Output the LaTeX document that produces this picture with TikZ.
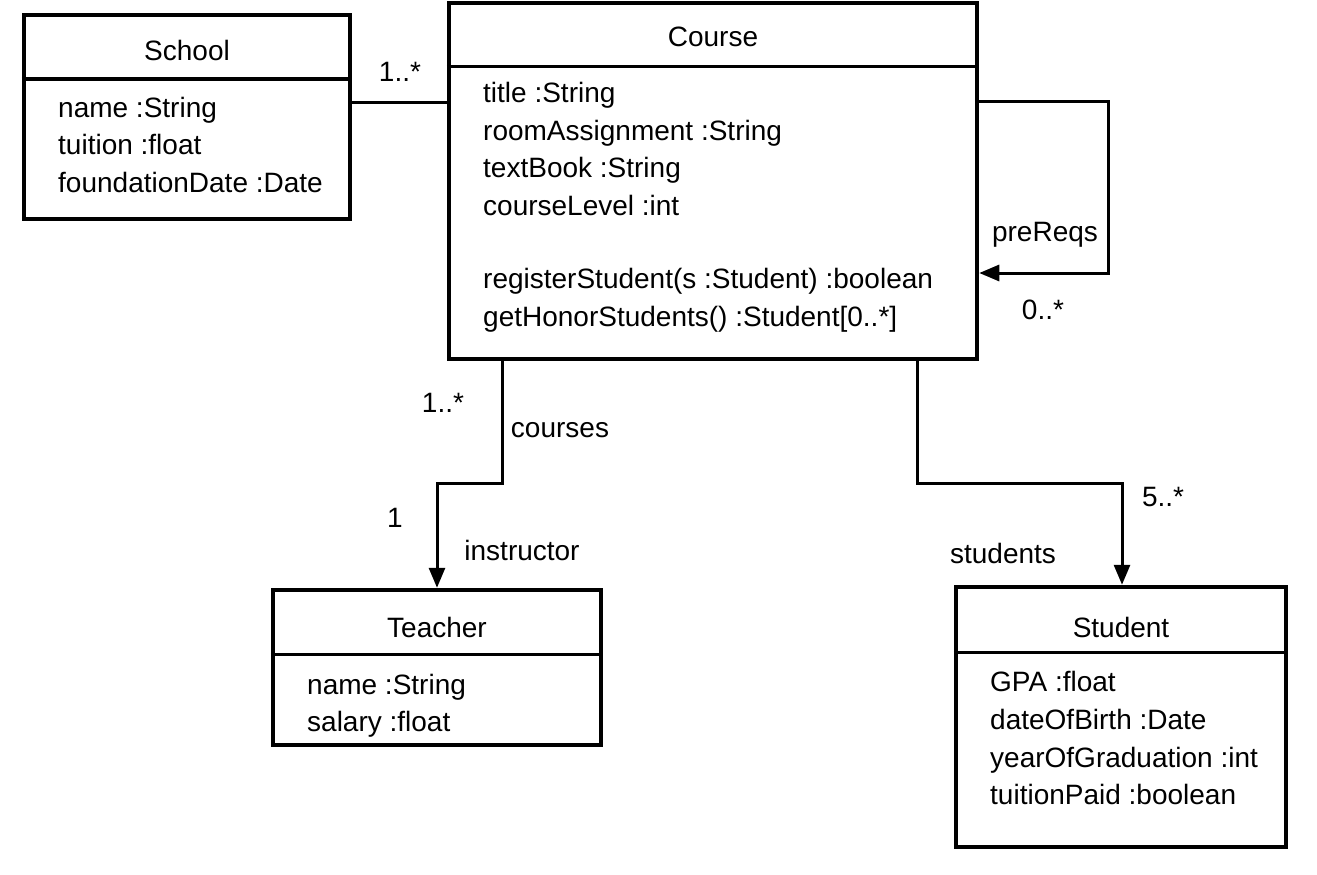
\documentclass[tikz,border=0pt]{standalone}
\usepackage{fontspec}
\setmainfont{Liberation Sans}
\usetikzlibrary{arrows.meta}
\begin{document}
\begin{tikzpicture}[x=1pt,y=-1pt,
  font=\fontsize{28}{37.7}\selectfont,
  cls/.style={draw, line width=4.5pt, inner sep=0pt, fill=white},
  div/.style={line width=3pt},
  conn/.style={line width=3pt},
  tipend/.style={-{Triangle[length=20pt,width=16pt]}},
  txt/.style={anchor=base west, inner sep=0pt},
  lbl/.style={inner sep=0pt}]
\fill[white] (0,0) rectangle (1317,875);
\useasboundingbox (0,0) rectangle (1317,875);

% class boxes
\node[cls, minimum width=326pt, minimum height=204pt] (school) at (187,117) {};
\node[cls, minimum width=528pt, minimum height=356pt] (course) at (713,181) {};
\node[cls, minimum width=328pt, minimum height=155pt] (teacher) at (437,667.5) {};
\node[cls, minimum width=330pt, minimum height=260pt] (student) at (1121,717) {};

% dividers
\draw[div] (school.west |- 0,79) -- (school.east |- 0,79);
\draw[div] (course.west |- 0,67) -- (course.east |- 0,67);
\draw[div] (teacher.west |- 0,654) -- (teacher.east |- 0,654);
\draw[div] (student.west |- 0,652) -- (student.east |- 0,652);

% School
\node[lbl] (schoolT) at (187,50) {School};
\node[txt] (s1) at (58,117) {name :String};
\node[txt] (s2) at (58,154) {tuition :float};
\node[txt] (s3) at (58,192) {foundationDate :Date};

% Course
\node[lbl] (courseT) at (713,37) {Course};
\node[txt] (c1) at (483,102) {title :String};
\node[txt] (c2) at (483,140) {roomAssignment :String};
\node[txt] (c3) at (483,177) {textBook :String};
\node[txt] (c4) at (483,215) {courseLevel :int};
\node[txt] (c5) at (483,288) {registerStudent(s :Student) :boolean};
\node[txt] (c6) at (483,326) {getHonorStudents() :Student[0..*]};

% Teacher
\node[lbl] (teacherT) at (437,627) {Teacher};
\node[txt] (t1) at (307,694) {name :String};
\node[txt] (t2) at (307,731) {salary :float};

% Student
\node[lbl] (studentT) at (1121,627) {Student};
\node[txt] (st1) at (990,691) {GPA :float};
\node[txt] (st2) at (990,729) {dateOfBirth :Date};
\node[txt] (st3) at (990,767) {yearOfGraduation :int};
\node[txt] (st4) at (990,804) {tuitionPaid :boolean};

% connectors
\draw[conn] (school.east |- 0,102) -- (course.west |- 0,102);
\draw[conn,tipend] (course.east |- 0,101) -- (1108,101) -- (1108,273) -- (course.east |- 0,273);
\draw[conn,tipend] (course.south -| 502,0) -- (502,483) -- (437,483) -- (teacher.north -| 437,0);
\draw[conn,tipend] (course.south -| 917,0) -- (917,483) -- (1122,483) -- (student.north -| 1122,0);

% labels
\node[lbl] (m1) at (400,72) {1..*};
\node[lbl] (m2) at (443,403) {1..*};
\node[lbl] (r1) at (560,430) {courses};
\node[lbl] (m3) at (395,518) {1};
\node[lbl] (r2) at (522,550) {instructor};
\node[lbl] (r3) at (1045,235) {preReqs};
\node[lbl] (m4) at (1043,310) {0..*};
\node[lbl] (m5) at (1163,497) {5..*};
\node[lbl] (r4) at (1003,553) {students};
\end{tikzpicture}
\end{document}
